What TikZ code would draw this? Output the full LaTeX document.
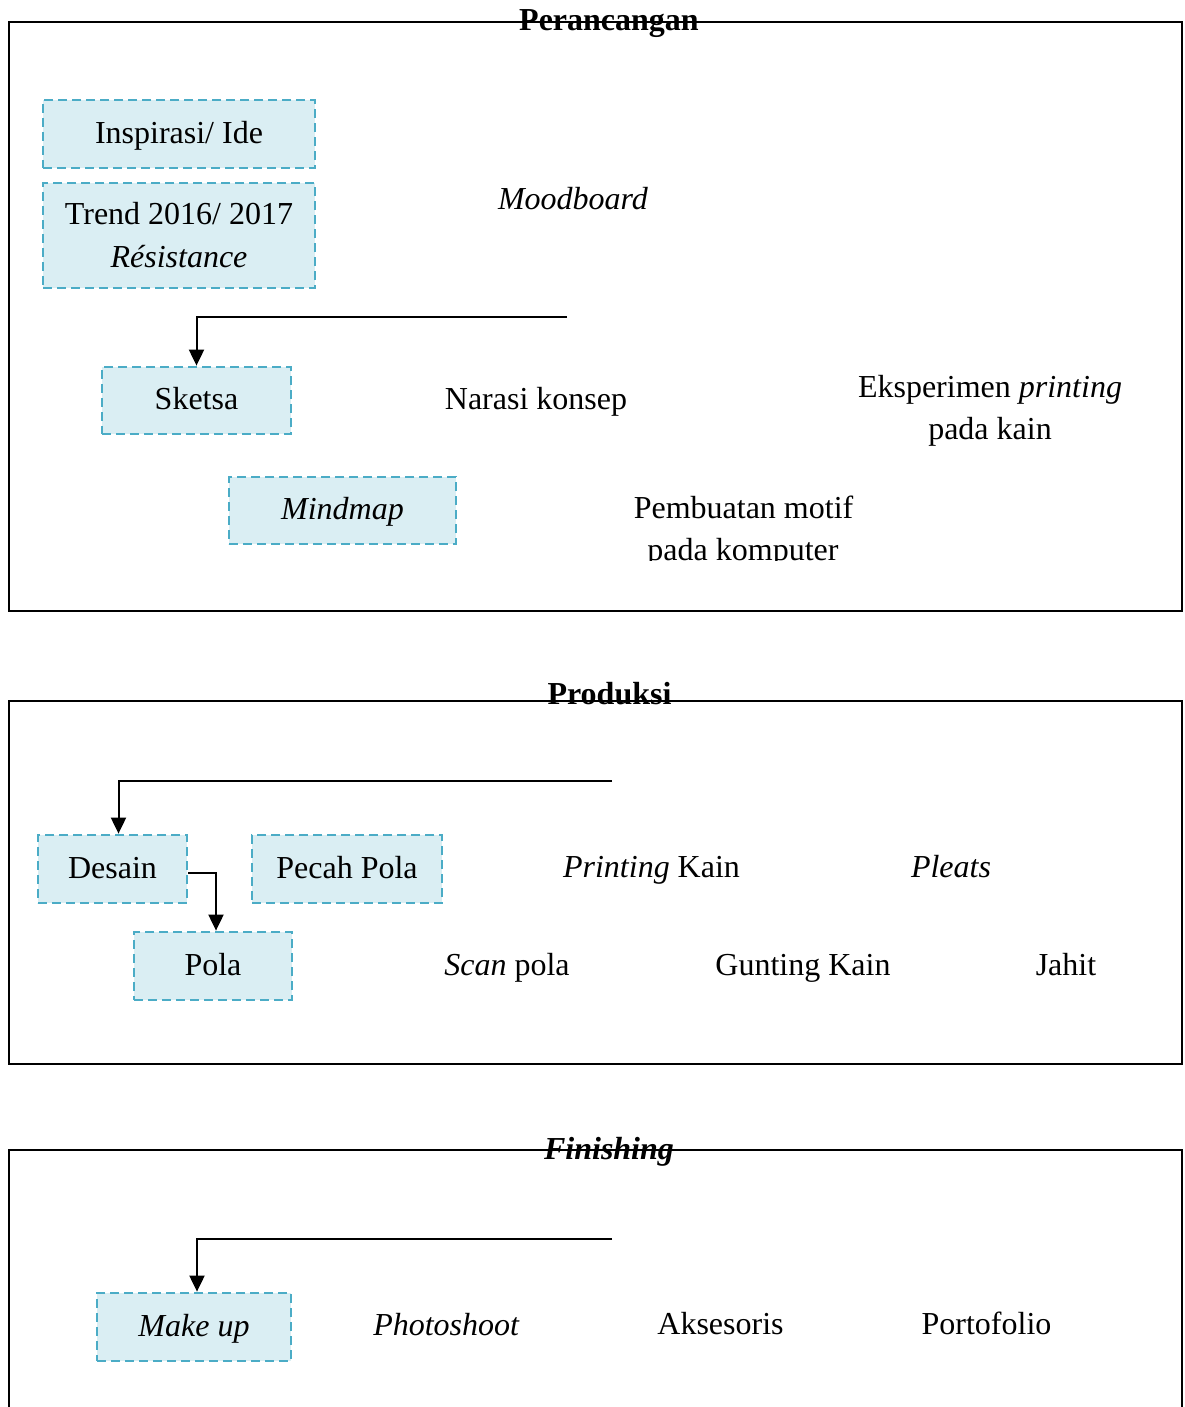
\documentclass[tikz,border=0pt]{standalone}
\usepackage{fontspec}
\setmainfont{Liberation Serif}
\usetikzlibrary{arrows.meta}
\definecolor{boxfill}{HTML}{DAEEF3}
\definecolor{boxline}{HTML}{4BACC6}
\begin{document}
\begin{tikzpicture}[x=1pt,y=-1pt,
  font=\fontsize{32}{43}\selectfont,
  panel/.style={draw=black,line width=2pt},
  box/.style={draw=boxline, fill=boxfill, line width=2.8pt, dash pattern=on 9pt off 5pt, inner sep=0pt},
  onel/.style={box, text height=22pt, text depth=4pt},
  lbl/.style={inner sep=0pt, anchor=base, yshift=-2pt},
  ttl/.style={inner sep=0pt, anchor=base, yshift=-2pt, font=\fontsize{32}{43}\selectfont\bfseries},
  arr/.style={draw=black, line width=2pt, -{Triangle[width=15pt,length=16pt]}}
]
\useasboundingbox (0,0) rectangle (1184,1407);

% ---------- Perancangan ----------
\draw[panel] (9,22) rectangle (1182,611);
\node[ttl] (t1) at (609,29) {Perancangan};

\node[onel, minimum width=272pt, minimum height=68pt, text height=24pt, text depth=5pt] (insp) at (179,134) {Inspirasi/ Ide};
\node[box, minimum width=272pt, minimum height=105pt, align=center] (trend) at (179,235.5) {Trend 2016/ 2017\\\textit{Résistance}};
\node[lbl] (mood) at (573,207) {\textit{Moodboard}};

\node[onel, minimum width=189pt, minimum height=67pt] (sketsa) at (196.5,400.5) {Sketsa};
\node[lbl] (narasi) at (536,407) {Narasi konsep};
\node[lbl] (eks1) at (990,395) {Eksperimen \textit{printing}};
\node[lbl] (eks2) at (990,437) {pada kain};

\node[onel, minimum width=227pt, minimum height=67pt] (mind) at (342.5,510.5) {\textit{Mindmap}};
\begin{scope}
  \clip (0,440) rectangle (1184,560);
  \node[lbl] (motif1) at (743.5,516) {Pembuatan motif};
  \node[lbl] (motif2) at (743,558) {pada komputer};
\end{scope}

\coordinate (e1) at (567,317);
\draw[arr] (e1) -| (sketsa.north);

% ---------- Produksi ----------
\draw[panel] (9,701) rectangle (1182,1064);
\node[ttl] (t2) at (609.5,702) {Produksi};

\node[onel, minimum width=149pt, minimum height=68pt] (desain) at (112.5,869) {Desain};
\node[onel, minimum width=190pt, minimum height=68pt] (pecah) at (347,869) {Pecah Pola};
\node[onel, minimum width=158pt, minimum height=68pt] (pola) at (213,966) {Pola};
\node[lbl] (print) at (651.5,875) {\textit{Printing} Kain};
\node[lbl] (pleats) at (951,875) {\textit{Pleats}};
\node[lbl] (scan) at (507,973) {\textit{Scan} pola};
\node[lbl] (gunting) at (803,973) {Gunting Kain};
\node[lbl] (jahit) at (1066,973) {Jahit};

\coordinate (e2) at (612,781);
\draw[arr] (e2) -| ([xshift=6pt]desain.north);
\draw[arr] ([yshift=-4pt]desain.east) -| ([xshift=3pt]pola.north);

% ---------- Finishing ----------
\draw[panel] (9,1420) -- (9,1150) -- (1182,1150) -- (1182,1420);
\node[ttl] (t3) at (609,1157) {\textit{Finishing}};

\node[onel, minimum width=194pt, minimum height=68pt] (makeup) at (194,1327) {\textit{Make up}};
\node[lbl] (photo) at (446.5,1333) {\textit{Photoshoot}};
\node[lbl] (akses) at (720.5,1332) {Aksesoris};
\node[lbl] (porto) at (986.5,1332) {Portofolio};

\coordinate (e3) at (612,1239);
\draw[arr] (e3) -| ([xshift=3pt]makeup.north);
\end{tikzpicture}
\end{document}
